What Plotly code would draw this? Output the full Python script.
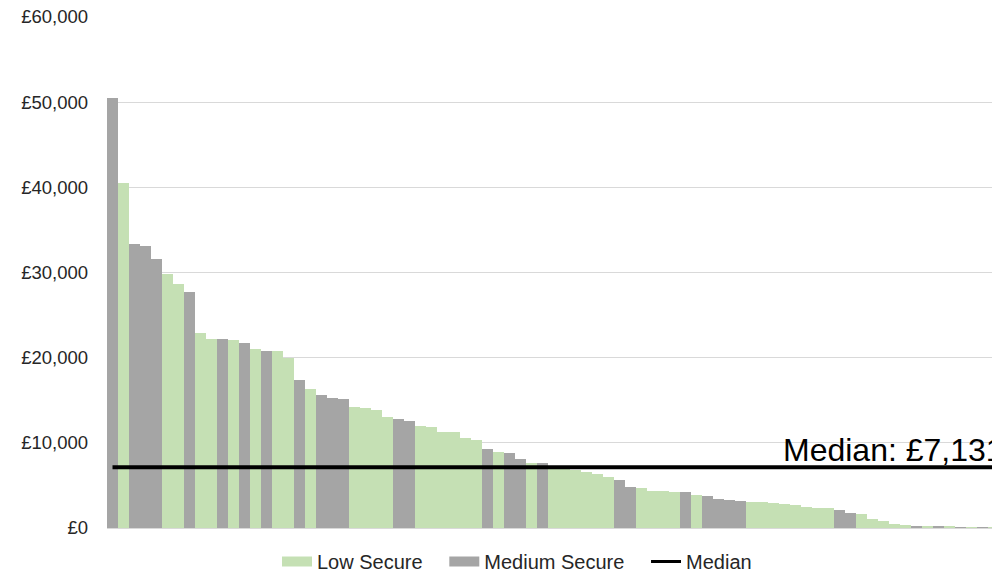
import numpy as np
import plotly.graph_objects as go

# Cost per unit, sorted from highest to lowest, with each unit's security level
costs = [
    50500, 40500, 33350, 33150, 31550, 29850, 28700, 27750, 22900, 22250,
    22200, 22050, 21700, 21000, 20750, 20750, 19950, 17350, 16350, 15650,
    15300, 15150, 14200, 14100, 13900, 13050, 12800, 12550, 11950, 11850,
    11300, 11300, 10600, 10300, 9250, 8950, 8750, 8050, 7600, 7600,
    7131, 7000, 6850, 6600, 6300, 6000, 5650, 4850, 4650, 4400,
    4300, 4200, 4200, 3900, 3700, 3400, 3250, 3150, 3100, 3050,
    2900, 2800, 2750, 2450, 2400, 2350, 2100, 1800, 1620, 1050,
    800, 450, 330, 220, 200, 130, 120, 110, 50, 40,
    30,
]
security = [
    "M", "L", "M", "M", "M", "L", "L", "M", "L", "L",
    "M", "L", "M", "L", "M", "L", "L", "M", "L", "M",
    "M", "M", "L", "L", "L", "L", "M", "M", "L", "L",
    "L", "L", "L", "L", "M", "L", "M", "M", "L", "M",
    "L", "L", "L", "L", "L", "L", "M", "M", "L", "L",
    "L", "L", "M", "L", "M", "M", "M", "M", "L", "L",
    "L", "L", "L", "L", "L", "L", "M", "M", "L", "L",
    "L", "L", "L", "M", "L", "M", "L", "M", "L", "M",
    "L",
]
series_names = {"L": "Low Secure", "M": "Medium Secure"}
series_colors = {"L": "#C5E0B4", "M": "#A5A5A5"}

units = list(range(len(costs)))
median_cost = float(np.median(costs))

TEXT = "#262626"
FONT = "Liberation Sans, Arial, sans-serif"
PAD = "\u00a0" * 3  # extra room between legend entries

fig = go.Figure()

for key in ("L", "M"):
    xs = [u for u, s in zip(units, security) if s == key]
    ys = [c for c, s in zip(costs, security) if s == key]
    fig.add_trace(go.Bar(
        x=xs, y=ys, width=1.0,
        marker=dict(color=series_colors[key], line=dict(width=0)),
        name=series_names[key], showlegend=False,
        hovertemplate="£%{y:,.0f}<extra>" + series_names[key] + "</extra>",
    ))

# Median series across every unit
fig.add_trace(go.Scatter(
    x=units, y=[median_cost] * len(units), mode="lines",
    line=dict(color="black", width=4), showlegend=False, name="Median",
    hoverinfo="skip",
))

# Legend entries drawn as wide swatches
for key in ("L", "M"):
    fig.add_trace(go.Scatter(
        x=[None], y=[None], mode="lines", name=series_names[key] + PAD,
        line=dict(color=series_colors[key], width=11),
    ))
fig.add_trace(go.Scatter(
    x=[None], y=[None], mode="lines", name="Median",
    line=dict(color="black", width=3),
))

fig.add_annotation(
    xref="paper", yref="y", x=0.7615, y=median_cost,
    xanchor="left", yanchor="bottom", yshift=-3,
    text=f"Median: £{median_cost:,.0f}", showarrow=False,
    font=dict(family=FONT, size=32, color="black"),
)

fig.update_layout(
    width=992, height=574,
    margin=dict(l=107, r=0, t=17, b=46),
    paper_bgcolor="white", plot_bgcolor="white",
    barmode="overlay", bargap=0,
    font=dict(family=FONT, size=18, color=TEXT),
    xaxis=dict(range=[-0.5, 79.84], showticklabels=False, showgrid=False,
               zeroline=False, showline=False, ticks=""),
    yaxis=dict(range=[0, 60000], dtick=10000, tickprefix="£", tickformat=",d",
               showgrid=True, gridcolor="#D9D9D9", gridwidth=1,
               zeroline=True, zerolinecolor="#D9D9D9", zerolinewidth=1,
               showline=False, ticks="", ticklabelstandoff=18,
               tickfont=dict(size=18.5, color=TEXT)),
    legend=dict(orientation="h", xref="container", yref="container",
                x=277 / 992, xanchor="left", y=12.5 / 574, yanchor="middle",
                font=dict(size=20, color=TEXT),
                itemwidth=30, bgcolor="rgba(0,0,0,0)"),
    showlegend=True,
)

fig.write_html("out.html")
